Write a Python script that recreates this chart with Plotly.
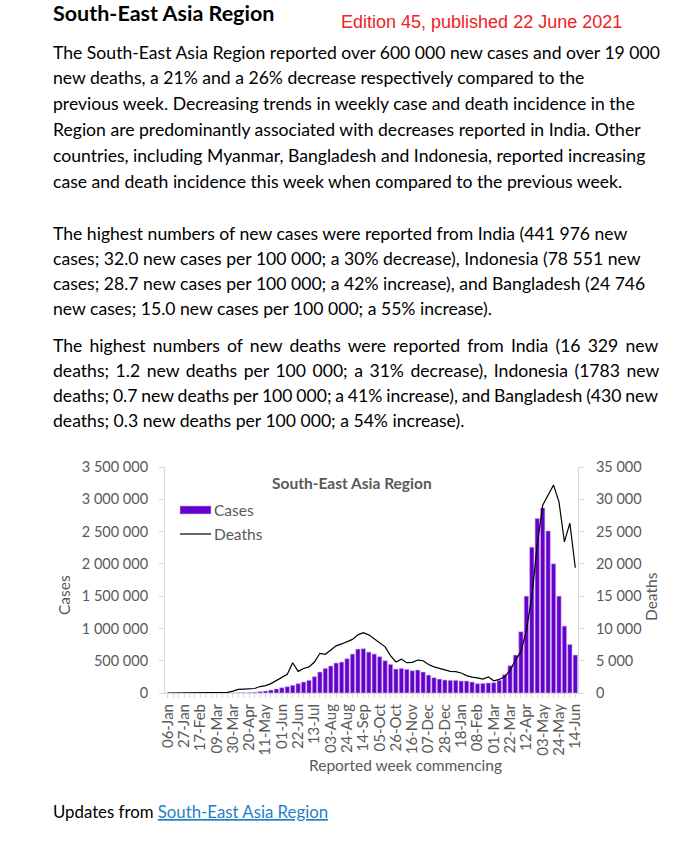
import plotly.graph_objects as go
import pandas as pd

# ---------------- data ----------------
weeks = [d.strftime("%Y-%m-%d") for d in pd.date_range("2020-01-06", periods=76, freq="7D")]
week_labels = [d.strftime("%d-%b") for d in pd.date_range("2020-01-06", periods=76, freq="7D")]

cases = [0, 0, 0, 0, 0, 0, 0, 0, 0, 0, 0, 500,
         1500, 3000, 5000, 7500, 11000, 21000, 31000, 46000, 62000, 82000, 98000, 119000,
         144000, 170000, 196000, 253000, 325000, 381000, 418000, 464000, 479000, 531000, 603000, 680000,
         686000, 634000, 603000, 562000, 500000, 443000, 371000, 381000, 366000, 345000, 356000, 325000,
         278000, 237000, 216000, 201000, 196000, 196000, 186000, 186000, 170000, 144000, 149000, 155000,
         160000, 196000, 284000, 423000, 588000, 948000, 1500000, 2258000, 2701000, 2866000, 2510000, 2000000,
         1500000, 1036000, 753000, 588000]

deaths = [0, 0, 0, 0, 0, 0, 0, 0, 0, 0, 30, 100,
          300, 550, 600, 620, 700, 1000, 1150, 1450, 1950, 2450, 2900, 4690,
          3350, 3800, 4050, 4800, 6150, 6000, 6700, 7300, 7600, 7900, 8300, 9000,
          9350, 9000, 8400, 7800, 7150, 5800, 4800, 5250, 4700, 4750, 5100, 5000,
          4400, 4050, 3800, 3500, 3350, 3300, 3100, 2700, 2450, 2350, 2150, 2500,
          1900, 2100, 2500, 3500, 5100, 6400, 9700, 14900, 22900, 29100, 30600, 32200,
          29600, 23400, 26300, 19400]

tick_every = 3
cases_ticks = [0, 500000, 1000000, 1500000, 2000000, 2500000, 3000000, 3500000]
deaths_ticks = [0, 5000, 10000, 15000, 20000, 25000, 30000, 35000]

title = "South-East Asia Region"
edition = "Edition 45, published 22 June 2021"
para1 = [
    "The South-East Asia Region reported over 600 000 new cases and over 19 000",
    "new deaths, a 21% and a 26% decrease respectively compared to the",
    "previous week. Decreasing trends in weekly case and death incidence in the",
    "Region are predominantly associated with decreases reported in India. Other",
    "countries, including Myanmar, Bangladesh and Indonesia, reported increasing",
    "case and death incidence this week when compared to the previous week.",
]
para2 = [
    "The highest numbers of new cases were reported from India (441 976 new",
    "cases; 32.0 new cases per 100 000; a 30% decrease), Indonesia (78 551 new",
    "cases; 28.7 new cases per 100 000; a 42% increase), and Bangladesh (24 746",
    "new cases; 15.0 new cases per 100 000; a 55% increase).",
]
para3 = [
    "The highest numbers of new deaths were reported from India (16 329 new",
    "deaths; 1.2 new deaths per 100 000; a 31% decrease), Indonesia (1783 new",
    "deaths; 0.7 new deaths per 100 000; a 41% increase), and Bangladesh (430 new",
    "deaths; 0.3 new deaths per 100 000; a 54% increase).",
]
para3_wordspacing = [2.6, 2.0, -0.7, 0]

# ---------------- layout helpers ----------------
W, H = 690, 867
L, R, T, B = 165, 578, 467, 693


def px(x):
    return (x - L) / (R - L)


def py(y):
    return (B - y) / (B - T)


BODY = "Lato, 'Open Sans', sans-serif"
GREY = "#595959"
PURPLE = "#6600CC"
BODY_SIZE = 17.6

fig = go.Figure()
fig.add_trace(go.Bar(
    x=weeks, y=cases, name="Cases",
    marker=dict(color=PURPLE, line=dict(color="#c9b3ee", width=0.6)),
    yaxis="y", showlegend=False,
))
fig.add_trace(go.Scatter(
    x=weeks, y=deaths, name="Deaths", mode="lines",
    line=dict(color="black", width=1.2),
    yaxis="y2", showlegend=False,
))

ticktext = [lab if i % tick_every == 0 else "" for i, lab in enumerate(week_labels)]

fig.update_layout(
    width=W, height=H,
    margin=dict(l=L, r=W - R, t=T, b=H - B, pad=0),
    paper_bgcolor="white", plot_bgcolor="white",
    separators=". ",
    bargap=0.2,
    font=dict(family=BODY, color=GREY, size=14),
    xaxis=dict(
        type="category", tickmode="array", tickvals=weeks, ticktext=ticktext,
        tickangle=-90, tickfont=dict(size=15, color=GREY),
        showline=True, linecolor="#d9d9d9", linewidth=1,
        ticks="outside", ticklen=4, tickcolor="#d9d9d9",
        showgrid=False, zeroline=False,
    ),
    yaxis=dict(
        range=[0, 3500000], tickvals=cases_ticks, tickformat=",d",
        showline=True, linecolor="#d9d9d9", ticks="outside", ticklen=5,
        tickcolor="#d9d9d9", showgrid=False, zeroline=False,
        tickfont=dict(size=14.5, color=GREY), ticklabelstandoff=8,
    ),
    yaxis2=dict(
        range=[0, 35000], tickvals=deaths_ticks, tickformat=",d",
        overlaying="y", side="right",
        showline=True, linecolor="#d9d9d9", ticks="outside", ticklen=5,
        tickcolor="#d9d9d9", showgrid=False, zeroline=False,
        tickfont=dict(size=14.5, color=GREY), ticklabelstandoff=9,
    ),
    showlegend=False,
)

ann = []


def text(x, y, s, size=BODY_SIZE, color="black", anchor="left", family=BODY, angle=0):
    ann.append(dict(
        x=px(x), y=py(y), xref="paper", yref="paper", text=s, showarrow=False,
        xanchor=anchor, yanchor="middle", textangle=angle, borderpad=0,
        font=dict(family=family, size=size, color=color),
    ))


text(52, 13, "<b>" + title + "</b>", size=21.5)
text(340, 22, edition, size=18, color="#ee2222", family="'Liberation Sans', Arial, sans-serif")
for i, line in enumerate(para1):
    text(52, 52 + i * 25.9, line)
for i, line in enumerate(para2):
    text(52, 233 + i * 25, line)
for i, line in enumerate(para3):
    ws = para3_wordspacing[i]
    text(52, 345 + i * 25.3, f"<span style='word-spacing:{ws}px'>{line}</span>")

# chart texts
text(352, 483, "<b>South-East Asia Region</b>", size=15.5, color=GREY, anchor="center")
text(64, 595, "Cases", size=15.5, color=GREY, anchor="center", angle=-90)
text(651, 597, "Deaths", size=15.5, color=GREY, anchor="center", angle=-90)
text(405, 765, "Reported week commencing", size=15.5, color=GREY, anchor="center")

# legend (manual)
shapes = [
    dict(type="rect", xref="paper", yref="paper", x0=px(180), x1=px(211), y0=py(514), y1=py(506),
         fillcolor=PURPLE, line=dict(color="#c9b3ee", width=0.6)),
    dict(type="line", xref="paper", yref="paper", x0=px(180), x1=px(211), y0=py(534), y1=py(534),
         line=dict(color="black", width=1.2)),
]
text(213, 510, "Cases", size=15.5, color=GREY)
text(213, 534, "Deaths", size=15.5, color=GREY)

text(52, 811, "Updates from <span style='color:#1F7FC4;text-decoration:underline'>South-East Asia Region</span>",
     size=16.8)

fig.update_layout(annotations=ann, shapes=shapes)
fig.write_html("out.html", post_script="document.body.style.margin='0';",
               config={"displayModeBar": False})
